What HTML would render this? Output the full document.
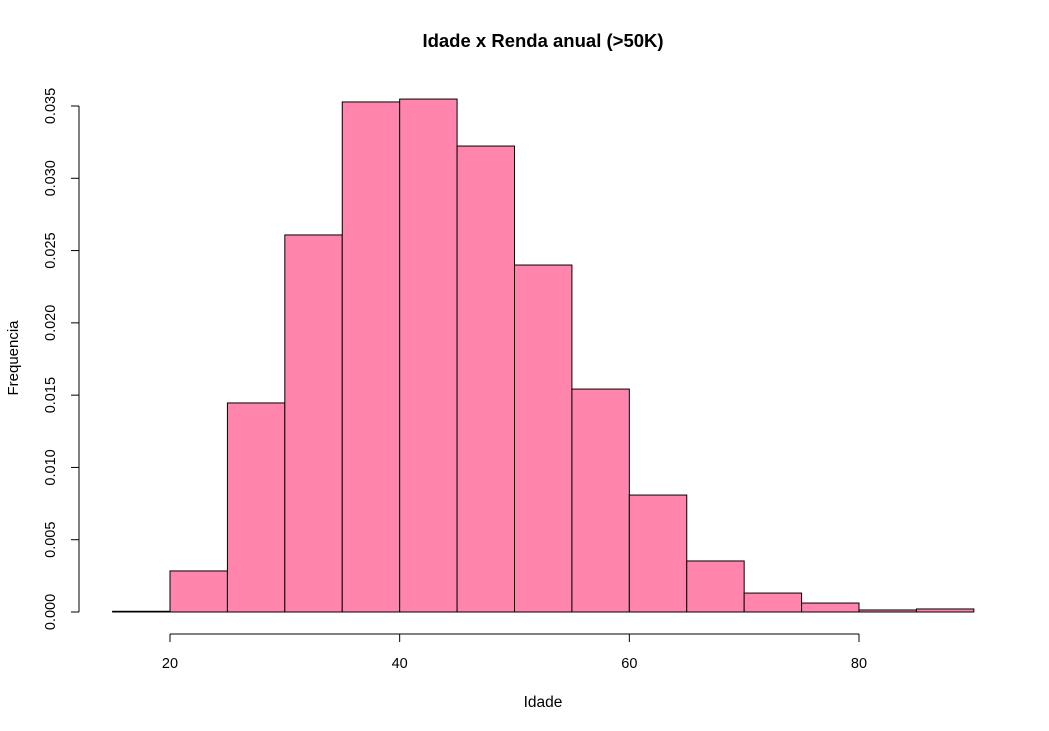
<!DOCTYPE html>
<html><head><meta charset="utf-8"><style>
html,body{margin:0;padding:0;background:#fff;}
svg{display:block;font-family:"Liberation Sans",sans-serif;}
</style></head><body>
<svg id="chart" width="1049" height="731" viewBox="0 0 1049 731">
<text x="543" y="47" text-anchor="middle" font-size="18.5" font-weight="bold">Idade x Renda anual (&gt;50K)</text>
<text x="543" y="707" text-anchor="middle" font-size="15.5">Idade</text>
<text transform="translate(18,358) rotate(-90)" text-anchor="middle" font-size="15">Frequencia</text>
<g id="bars"></g>
<g id="xaxis"></g>
<g id="yaxis"></g>
</svg>
<script>
const binStarts = [15,20,25,30,35,40,45,50,55,60,65,70,75,80,85];
const binWidth = 5;
const densities = [0.00005,0.00284,0.01446,0.02608,0.03528,0.03548,0.03223,0.0240,0.01542,0.00809,0.00353,0.00131,0.00062,0.00014,0.00021];
const xTicks = [20,40,60,80];
const yTicks = [0,0.005,0.010,0.015,0.020,0.025,0.030,0.035];
const yTickLabels = ["0.000","0.005","0.010","0.015","0.020","0.025","0.030","0.035"];

const NS = "http://www.w3.org/2000/svg";
function xs(v){ return 170 + (v-20)*(859-170)/60; }
function ys(v){ return 612 - v*(612-106)/0.035; }
function mk(tag, attrs, parent){
  const e = document.createElementNS(NS, tag);
  for (const k in attrs) e.setAttribute(k, attrs[k]);
  parent.appendChild(e);
  return e;
}
const bars = document.getElementById('bars');
binStarts.forEach((s,i)=>{
  const x0 = xs(s), x1 = xs(s+binWidth), y = ys(densities[i]);
  const r = mk('rect', {x:x0, y:y, width:x1-x0, height:612-y, fill:'#ff85ad', stroke:'#000', 'stroke-width':1}, bars);
  
  
});
const xa = document.getElementById('xaxis');
const xl = mk('line', {x1:xs(xTicks[0]), x2:xs(xTicks[xTicks.length-1]), y1:634, y2:634, stroke:'#000'}, xa);


xTicks.forEach(t=>{
  const tk = mk('line', {x1:xs(t), x2:xs(t), y1:634, y2:642, stroke:'#000'}, xa);
  
  
  const tx = mk('text', {x:xs(t), y:668, 'text-anchor':'middle', 'font-size':14.5}, xa);
  tx.textContent = t;
  
  
});
const ya = document.getElementById('yaxis');
const yl = mk('line', {x1:79, x2:79, y1:ys(yTicks[0]), y2:ys(yTicks[yTicks.length-1]), stroke:'#000'}, ya);


yTicks.forEach((t,i)=>{
  const y = ys(t);
  const tk = mk('line', {x1:71, x2:79, y1:y, y2:y, stroke:'#000'}, ya);
  
  
  const tx = mk('text', {transform:'translate(55,'+y+') rotate(-90)', 'text-anchor':'middle', 'font-size':14.5}, ya);
  tx.textContent = yTickLabels[i];
  
  
});
</script>
</body></html>
